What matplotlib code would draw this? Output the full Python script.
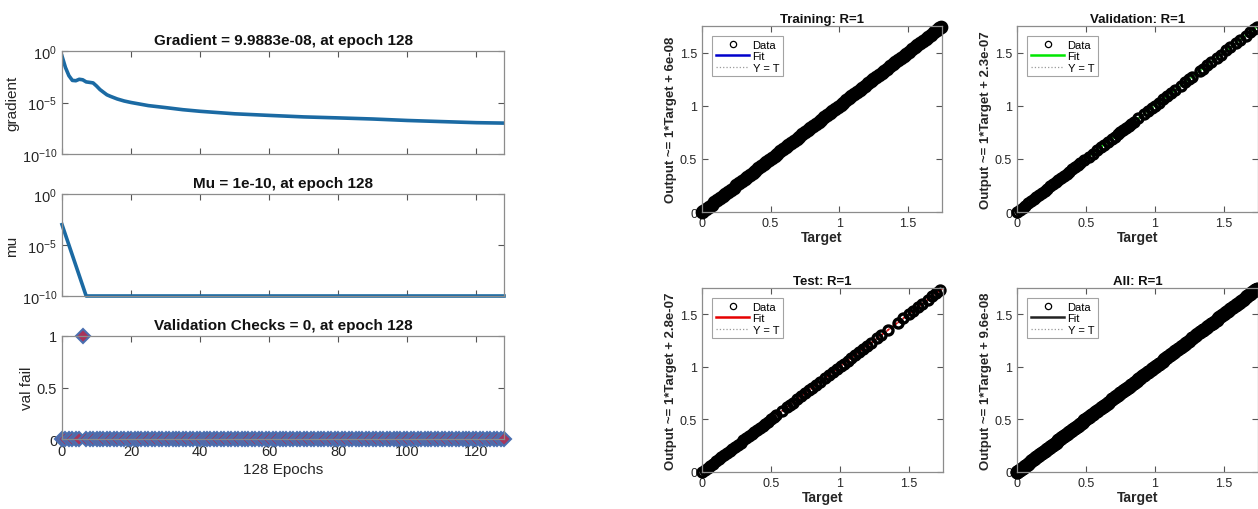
import matplotlib
matplotlib.use("Agg")
import matplotlib.pyplot as plt
from matplotlib.lines import Line2D

plt.rcParams['font.family'] = ['Liberation Sans', 'DejaVu Sans']
plt.rcParams['mathtext.fontset'] = 'custom'
plt.rcParams['mathtext.rm'] = 'Liberation Sans'

# ---- training record ----
grad_epochs = [0, 1, 2, 3, 4, 5, 6, 7, 8, 9, 10, 11, 12, 13, 14, 16, 18, 20,
               25, 30, 35, 40, 50, 60, 70, 80, 90, 100, 110, 120, 128]
grad_vals = [3.2e-1, 2.5e-2, 4.0e-3, 1.4e-3, 1.3e-3, 1.8e-3, 1.6e-3, 1.0e-3,
             9.0e-4, 8.0e-4, 4.0e-4, 1.8e-4, 1.0e-4, 5.6e-5, 4.0e-5, 2.2e-5,
             1.4e-5, 1.0e-5, 5.0e-6, 3.2e-6, 2.0e-6, 1.4e-6, 8.0e-7, 5.6e-7,
             4.0e-7, 3.2e-7, 2.5e-7, 1.8e-7, 1.4e-7, 1.1e-7, 9.9883e-8]

mu_epochs = [0, 1, 2, 3, 4, 5, 6, 7, 128]
mu_vals = [1e-3, 1e-4, 1e-5, 1e-6, 1e-7, 1e-8, 1e-9, 1e-10, 1e-10]

val_epochs = list(range(0, 129))
val_fail = [0] * 129
val_fail[6] = 1

# ---- regression data (targets; outputs equal targets, R=1) ----
train_t = [0.00, 0.01, 0.03, 0.05, 0.07, 0.09, 0.11, 0.13, 0.15, 0.17, 0.19,
           0.21, 0.23, 0.25, 0.27, 0.29, 0.31, 0.33, 0.35, 0.37, 0.39, 0.41,
           0.43, 0.45, 0.47, 0.49, 0.51, 0.53, 0.55, 0.57, 0.59, 0.61, 0.63,
           0.65, 0.67, 0.69, 0.71, 0.73, 0.75, 0.77, 0.79, 0.81, 0.83, 0.85,
           0.87, 0.89, 0.91, 0.93, 0.95, 0.97, 0.99, 1.01, 1.03, 1.05, 1.07,
           1.09, 1.11, 1.13, 1.15, 1.17, 1.19, 1.21, 1.23, 1.25, 1.27, 1.29,
           1.31, 1.33, 1.35, 1.37, 1.39, 1.41, 1.43, 1.45, 1.47, 1.49, 1.51,
           1.53, 1.55, 1.57, 1.59, 1.61, 1.63, 1.65, 1.67, 1.69, 1.71, 1.73,
           1.745]
val_t = [0.00, 0.02, 0.04, 0.06, 0.08, 0.10, 0.12, 0.14, 0.16, 0.18, 0.20,
         0.22, 0.24, 0.26, 0.28, 0.30, 0.32, 0.34, 0.36, 0.38, 0.40, 0.42,
         0.44, 0.46, 0.49, 0.52, 0.55, 0.58, 0.61, 0.63, 0.66, 0.69, 0.71,
         0.73, 0.75, 0.77, 0.79, 0.81, 0.83, 0.85, 0.88, 0.92, 0.95, 0.98,
         1.00, 1.03, 1.06, 1.09, 1.12, 1.15, 1.19, 1.22, 1.25, 1.27, 1.33,
         1.35, 1.38, 1.41, 1.45, 1.48, 1.52, 1.55, 1.59, 1.62, 1.66, 1.69,
         1.72, 1.745]
test_t = [0.00, 0.02, 0.04, 0.06, 0.08, 0.10, 0.12, 0.14, 0.16, 0.18, 0.20,
          0.22, 0.24, 0.26, 0.28, 0.30, 0.32, 0.34, 0.36, 0.38, 0.40, 0.42,
          0.44, 0.46, 0.48, 0.50, 0.52, 0.54, 0.58, 0.62, 0.64, 0.66, 0.69,
          0.72, 0.75, 0.78, 0.80, 0.83, 0.86, 0.89, 0.92, 0.95, 0.98, 1.01,
          1.03, 1.06, 1.08, 1.11, 1.14, 1.17, 1.20, 1.23, 1.27, 1.30, 1.35,
          1.42, 1.46, 1.50, 1.53, 1.57, 1.60, 1.64, 1.67, 1.70, 1.73]
all_t = train_t + val_t + test_t

reg_titles = ["Training: R=1", "Validation: R=1", "Test: R=1", "All: R=1"]
reg_targets = [train_t, val_t, test_t, all_t]
reg_slopes = [1, 1, 1, 1]
reg_icepts = [6e-08, 2.3e-07, 2.8e-07, 9.6e-08]
reg_icept_txt = ["6e-08", "2.3e-07", "2.8e-07", "9.6e-08"]
fit_colors = ["#0000cc", "#00e600", "#e60000", "#222222"]
marker_w = [3.4, 2.4, 2.4, 3.4]

W, H = 1258, 510
fig = plt.figure(figsize=(W / 100, H / 100), dpi=100)

txt = '#262626'
edge = '#8c8c8c'
blue = '#1b6aa3'


def box(x0, y0, x1, y1):
    return [x0 / W, 1 - y1 / H, (x1 - x0) / W, (y1 - y0) / H]


def style(ax, fs):
    for s in ax.spines.values():
        s.set_color(edge)
        s.set_linewidth(0.9)
    ax.tick_params(direction='in', length=4, width=0.8, colors=txt,
                   labelsize=fs, top=True, right=True, color='#555555')


# --- left: training state ---
ax_g = fig.add_axes(box(62, 52, 504, 155))
ax_g.semilogy(grad_epochs, grad_vals, color=blue, lw=2.6)
ax_g.set_ylim(1e-10, 1e0)
ax_g.set_yticks([1e-10, 1e-5, 1e0])
ax_g.minorticks_off()
ax_g.set_ylabel("gradient", fontsize=11, color=txt, labelpad=2)
ax_g.set_title("Gradient = 9.9883e-08, at epoch 128", fontsize=11,
               fontweight='bold', color='#111111', pad=5)

ax_m = fig.add_axes(box(62, 195, 504, 297))
ax_m.semilogy(mu_epochs, mu_vals, color=blue, lw=2.6, clip_on=False)
ax_m.set_ylim(1e-10, 1e0)
ax_m.set_yticks([1e-10, 1e-5, 1e0])
ax_m.minorticks_off()
ax_m.set_ylabel("mu", fontsize=11, color=txt, labelpad=2)
ax_m.set_title("Mu = 1e-10, at epoch 128", fontsize=11,
               fontweight='bold', color='#111111', pad=5)

ax_v = fig.add_axes(box(62, 337, 504, 440))
ax_v.plot(val_epochs, val_fail, ls='none', marker='D', ms=7.5,
          mfc='#a8345a', mec='#4a6fb0', mew=1.5, clip_on=False)
ax_v.set_ylim(0, 1)
ax_v.set_yticks([0, 0.5, 1])
ax_v.set_yticklabels(["0", "0.5", "1"])
ax_v.set_ylabel("val fail", fontsize=11, color=txt, labelpad=2)
ax_v.set_xlabel("128 Epochs", fontsize=11, color=txt, labelpad=3)
ax_v.set_title("Validation Checks = 0, at epoch 128", fontsize=11,
               fontweight='bold', color='#111111', pad=5)

for ax in (ax_g, ax_m, ax_v):
    ax.set_xlim(0, 128)
    ax.set_xticks([0, 20, 40, 60, 80, 100, 120])
    style(ax, 10.5)
ax_g.set_xticklabels([])
ax_m.set_xticklabels([])

# --- right: regression ---
boxes = [box(702, 27, 942, 213), box(1017, 27, 1258, 213),
         box(702, 289, 943, 473), box(1017, 289, 1258, 473)]
lim = [0, 1.75]
for i in range(4):
    ax = fig.add_axes(boxes[i])
    t = reg_targets[i]
    out = [reg_slopes[i] * v + reg_icepts[i] for v in t]
    ax.plot(lim, [reg_slopes[i] * v + reg_icepts[i] for v in lim],
            color=fit_colors[i], lw=1.3, zorder=1)
    ax.plot(lim, lim, ls=':', color='#9a9a9a', lw=0.9, zorder=1.5)
    ax.plot(t, out, ls='none', marker='o', ms=6.5, mfc='none', mec='black',
            mew=marker_w[i], zorder=2, clip_on=False)
    ax.set_xlim(lim)
    ax.set_ylim(lim)
    ax.set_xticks([0, 0.5, 1, 1.5])
    ax.set_yticks([0, 0.5, 1, 1.5])
    ax.set_xticklabels(["0", "0.5", "1", "1.5"])
    ax.set_yticklabels(["0", "0.5", "1", "1.5"])
    style(ax, 9)
    ax.set_title(reg_titles[i], fontsize=9.5, fontweight='bold',
                 color='#111111', pad=3)
    ax.set_xlabel("Target", fontsize=10, fontweight='bold', color=txt,
                  labelpad=1)
    ax.set_ylabel("Output ~= 1*Target + " + reg_icept_txt[i], fontsize=9.5,
                  fontweight='bold', color=txt, labelpad=2)
    handles = [Line2D([], [], ls='none', marker='o', mfc='none', mec='black',
                      ms=4.5, mew=0.9),
               Line2D([], [], color=fit_colors[i], lw=1.8),
               Line2D([], [], ls=':', color='#9a9a9a', lw=0.9)]
    leg = ax.legend(handles, ['Data', 'Fit', 'Y = T'], loc='upper left',
                    fontsize=8, frameon=True, fancybox=False,
                    borderaxespad=0.9, handlelength=3.0, handletextpad=0.3,
                    labelspacing=0.12, borderpad=0.35)
    leg.get_frame().set_edgecolor('#8c8c8c')
    leg.get_frame().set_linewidth(0.8)
    leg.set_zorder(5)

fig.savefig("out.png", dpi=100)
